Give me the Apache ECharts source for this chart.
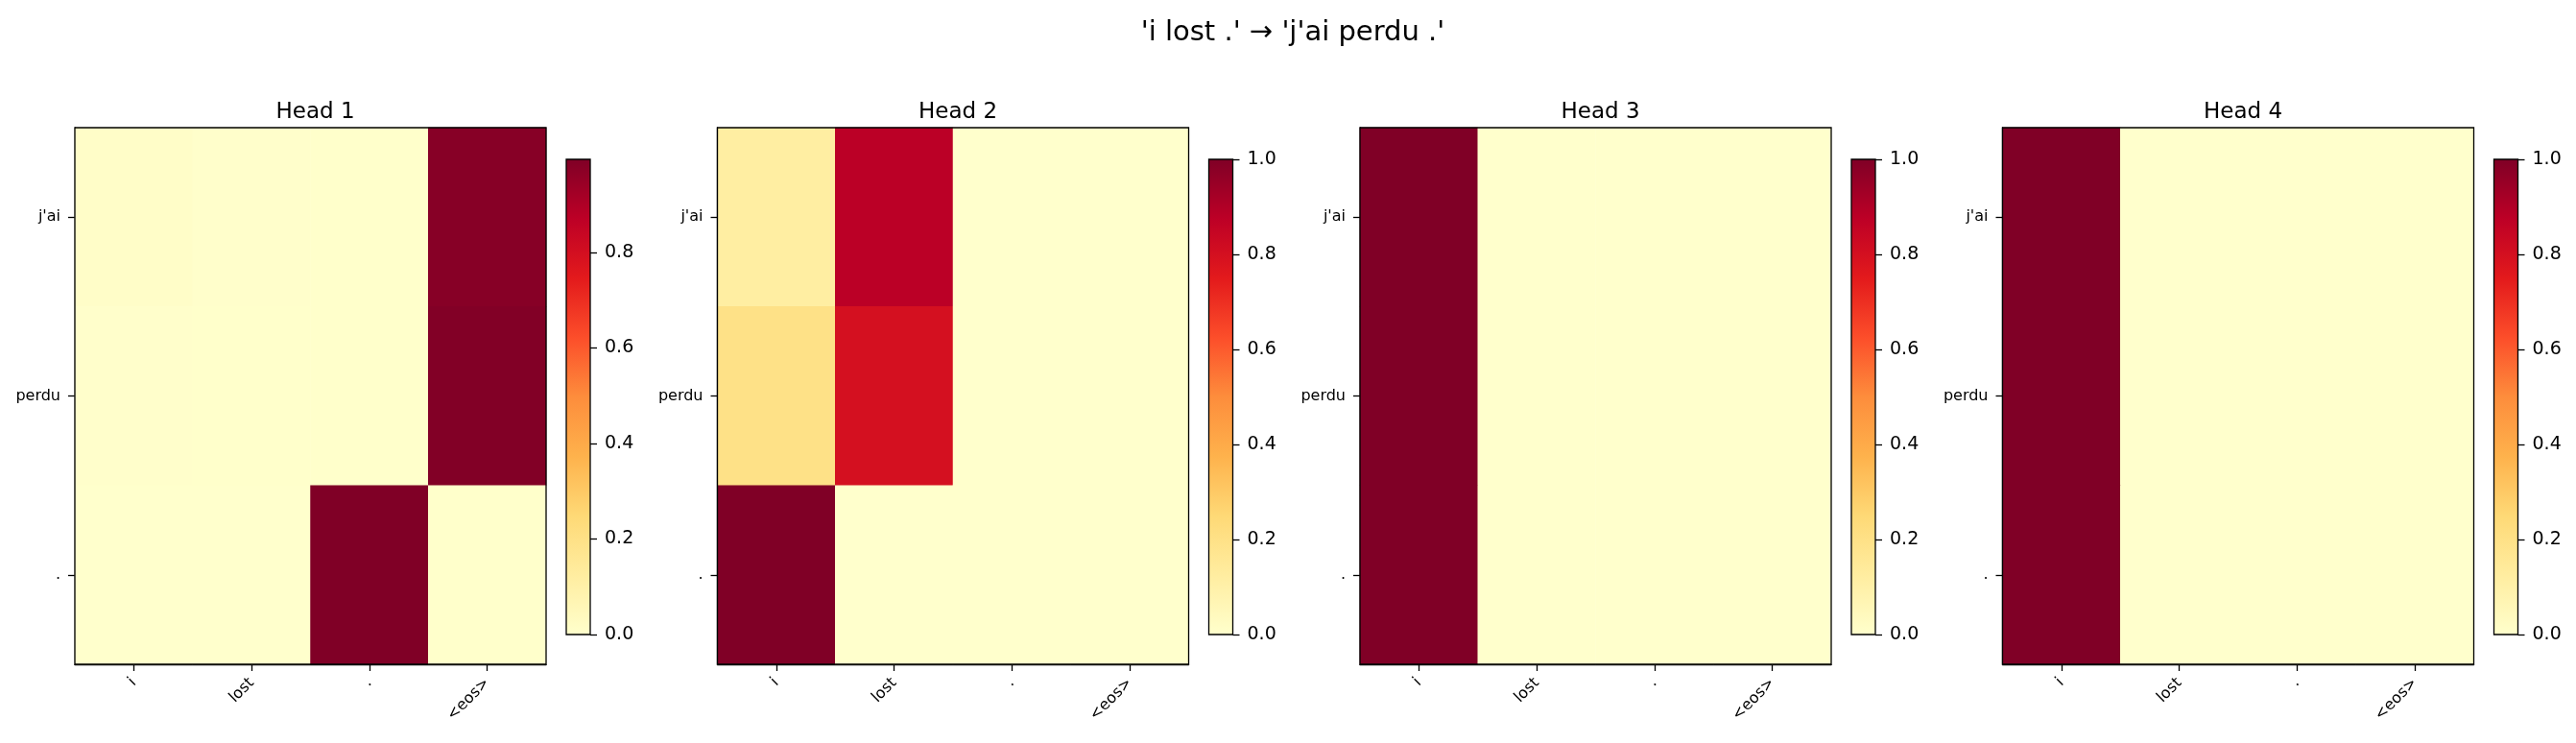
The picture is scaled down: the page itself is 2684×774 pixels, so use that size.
<!DOCTYPE html>
<html>
<head>
<meta charset="utf-8">
<script src="https://cdn.jsdelivr.net/npm/echarts@6/dist/echarts.min.js"></script>
<style>
html,body{margin:0;padding:0;background:#fff;}
#chart{width:2684px;height:774px;}
</style>
</head>
<body>
<div id="chart"></div>
<script>
// ---- data ----
var suptitle = "'i lost .' \u2192 'j'ai perdu .'";
var srcTokens = ['i', 'lost', '.', '<eos>'];
var tgtTokens = ["j'ai", 'perdu', '.'];
var headNames = ['Head 1', 'Head 2', 'Head 3', 'Head 4'];
// rows = target tokens, columns = source tokens
var head1 = [
  [0.012, 0.004, 0.003, 0.981],
  [0.004, 0.002, 0.003, 0.991],
  [0.001, 0.001, 0.995, 0.003]
];
var head2 = [
  [0.12, 0.88, 0.0, 0.0],
  [0.20, 0.80, 0.0, 0.0],
  [1.00, 0.0, 0.0, 0.0]
];
var head3 = [
  [1.0, 0.0, 0.0, 0.0],
  [1.0, 0.0, 0.0, 0.0],
  [1.0, 0.0, 0.0, 0.0]
];
var head4 = [
  [1.0, 0.0, 0.0, 0.0],
  [1.0, 0.0, 0.0, 0.0],
  [1.0, 0.0, 0.0, 0.0]
];
var heads = [head1, head2, head3, head4];
var cbTicks = [0, 0.2, 0.4, 0.6, 0.8, 1.0];
var ylOrRd = ['#ffffcc','#ffeda0','#fed976','#feb24c','#fd8d3c','#fc4e2a','#e31a1c','#bd0026','#800026'];

// ---- layout ----
var FONT = 'DejaVu Sans';
var plotLeft0 = 78, plotStep = 669.5, plotW = 491, plotTop = 133, plotH = 559;
var cbOff = 512, cbW = 25, cbTop = 166, cbH = 495;

var grids = [], xAxes = [], yAxes = [], series = [], visualMaps = [];
var titles = [{
  text: suptitle, left: 1342, top: 15, textAlign: 'center',
  textStyle: {fontFamily: FONT, fontSize: 29, fontWeight: 'normal', color: '#000'}
}];

heads.forEach(function (mat, h) {
  var vmax = 0;
  mat.forEach(function (r) { r.forEach(function (v) { if (v > vmax) vmax = v; }); });
  var left = plotLeft0 + plotStep * h;
  titles.push({
    text: headNames[h], left: left + plotW / 2, top: 101, textAlign: 'center',
    textStyle: {fontFamily: FONT, fontSize: 23, fontWeight: 'normal', color: '#000'}
  });
  grids.push({left: left, top: plotTop, width: plotW, height: plotH, show: true,
    borderColor: '#000', borderWidth: 1.3, backgroundColor: 'transparent', z: 10});
  grids.push({left: left + cbOff, top: cbTop, width: cbW, height: cbH, show: true,
    borderColor: '#000', borderWidth: 1.3, backgroundColor: 'transparent', z: 10});
  var gi = 2 * h, ci = 2 * h + 1;
  xAxes.push({
    type: 'category', gridIndex: gi, data: srcTokens, position: 'bottom',
    axisLine: {show: true, lineStyle: {color: '#000', width: 1.3}},
    axisTick: {show: true, alignWithLabel: true, length: 7, lineStyle: {color: '#000', width: 1.3}},
    axisLabel: {rotate: 45, margin: 17, fontFamily: FONT, fontSize: 16, color: '#000'},
    splitLine: {show: false}
  });
  yAxes.push({
    type: 'category', gridIndex: gi, data: tgtTokens, inverse: true,
    axisLine: {show: true, lineStyle: {color: '#000', width: 1.3}},
    axisTick: {show: true, alignWithLabel: true, length: 7, lineStyle: {color: '#000', width: 1.3}},
    axisLabel: {margin: 15, fontFamily: FONT, fontSize: 16, color: '#000'},
    splitLine: {show: false}
  });
  xAxes.push({
    type: 'category', gridIndex: ci, data: ['cb'],
    axisLine: {show: false}, axisTick: {show: false}, axisLabel: {show: false}
  });
  var ticks = cbTicks.filter(function (t) { return t <= vmax + 1e-3; });
  yAxes.push({
    type: 'value', gridIndex: ci, min: 0, max: vmax, position: 'right',
    axisLine: {show: false},
    splitLine: {show: false},
    axisTick: {show: true, length: 7, customValues: ticks, lineStyle: {color: '#000', width: 1.3}},
    axisLabel: {show: true, margin: 15, customValues: ticks, fontFamily: FONT, fontSize: 19, color: '#000',
      formatter: function (v) { return v.toFixed(1); }}
  });
  var data = [];
  mat.forEach(function (row, r) { row.forEach(function (v, c) { data.push([c, r, v]); }); });
  var hmIndex = series.length;
  series.push({
    type: 'heatmap', xAxisIndex: 2 * h, yAxisIndex: 2 * h, data: data,
    itemStyle: {borderWidth: 0}, emphasis: {disabled: true}, z: 2
  });
  var stops = ylOrRd.map(function (c, i) { return {offset: i / (ylOrRd.length - 1), color: c}; });
  series.push({
    type: 'bar', xAxisIndex: 2 * h + 1, yAxisIndex: 2 * h + 1, data: [vmax],
    barWidth: '100%', barCategoryGap: 0, silent: true,
    itemStyle: {color: new echarts.graphic.LinearGradient(0, 1, 0, 0, stops)}
  });
  visualMaps.push({
    type: 'continuous', show: false, seriesIndex: hmIndex, dimension: 2,
    min: 0, max: vmax, inRange: {color: ylOrRd}
  });
});

var chart = echarts.init(document.getElementById('chart'), null, {renderer: 'canvas'});
chart.setOption({
  backgroundColor: '#fff',
  animation: false,
  title: titles,
  grid: grids,
  xAxis: xAxes,
  yAxis: yAxes,
  visualMap: visualMaps,
  series: series
});
</script>
</body>
</html>
